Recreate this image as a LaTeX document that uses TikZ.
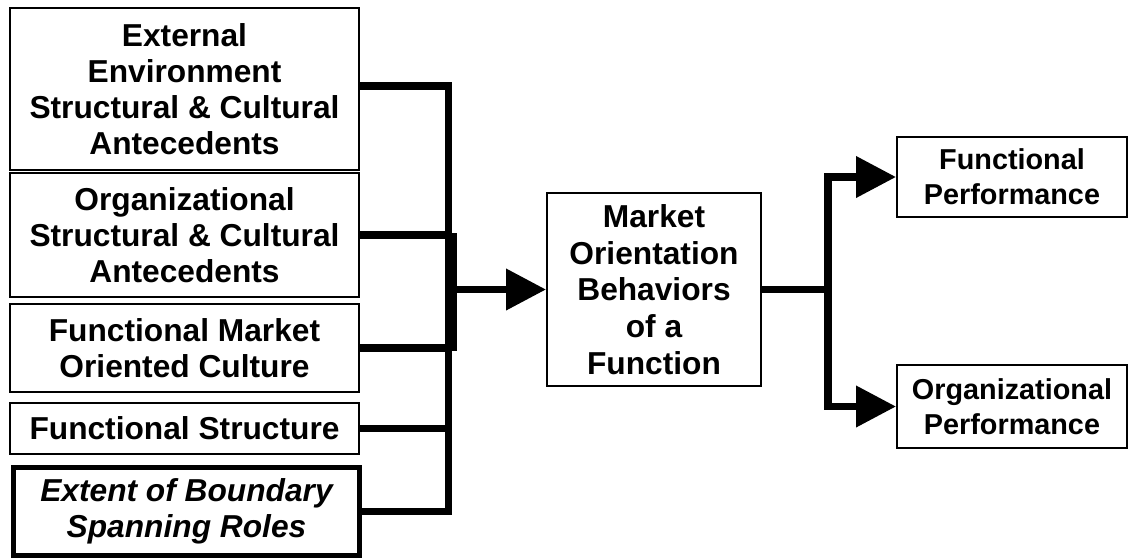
\documentclass[tikz,border=0pt]{standalone}
\usepackage{fontspec}
\setmainfont{Liberation Sans}
\usetikzlibrary{arrows.meta}
\begin{document}
\begin{tikzpicture}[x=1pt,y=-1pt,
  box/.style={draw, line width=2pt, inner sep=0pt, align=center,
    font=\fontsize{31.7}{36}\selectfont\bfseries},
  smallbox/.style={box, font=\fontsize{28.8}{35}\selectfont\bfseries},
  conn/.style={line width=7.3pt, line join=miter},
  arr/.style={conn, -{Triangle[length=40pt,width=40pt]}}]
\useasboundingbox (0,0) rectangle (1128,558);
\node[box, minimum width=349pt, minimum height=162pt] (b1) at (184.5,89) {External\\Environment\\Structural \& Cultural\\Antecedents};
\node[box, minimum width=349pt, minimum height=124pt] (b2) at (184.5,235) {Organizational\\Structural \& Cultural\\Antecedents};
\node[box, minimum width=349pt, minimum height=88pt] (b3) at (184.5,348) {Functional Market\\Oriented Culture};
\node[box, minimum width=349pt, minimum height=51pt] (b4) at (184.5,428.5) {Functional Structure};
\node[box, line width=5pt, minimum width=346pt, minimum height=88pt, font=\fontsize{31.7}{36}\selectfont\bfseries\itshape] (b5) at (186.5,511.5) {Extent of Boundary\\Spanning Roles};
\node[box, minimum width=214pt, minimum height=193pt, font=\fontsize{31.7}{36.7}\selectfont\bfseries] (mob) at (654,289.5) {Market\\Orientation\\Behaviors\\of a\\Function};
\node[smallbox, minimum width=230pt, minimum height=80pt] (fp) at (1012,177) {Functional\\Performance};
\node[smallbox, minimum width=230pt, minimum height=83pt] (op) at (1012,406.5) {Organizational\\Performance};
\coordinate (spine) at (448.5,0);
\coordinate (split) at (828,0);
\node[fill, minimum width=11pt, minimum height=118pt, inner sep=0pt] (bar) at (451.5,292) {};
\draw[conn] ([yshift=3pt]b1.east) -- ([yshift=3pt]b1.east -| spine) -- (b5.east -| spine) -- (b5.east);
\draw[conn] (b2.east) -- (b2.east -| spine);
\draw[conn] (b3.east) -- (b3.east -| spine);
\draw[conn] (b4.east) -- (b4.east -| spine);
\draw[arr] (bar.east |- mob.west) -- (mob.west);
\draw[conn] (mob.east) -- (mob.east -| split);
\draw[arr] (mob.east -| split) |- (fp.west);
\draw[arr] (mob.east -| split) |- (op.west);
\end{tikzpicture}
\end{document}
